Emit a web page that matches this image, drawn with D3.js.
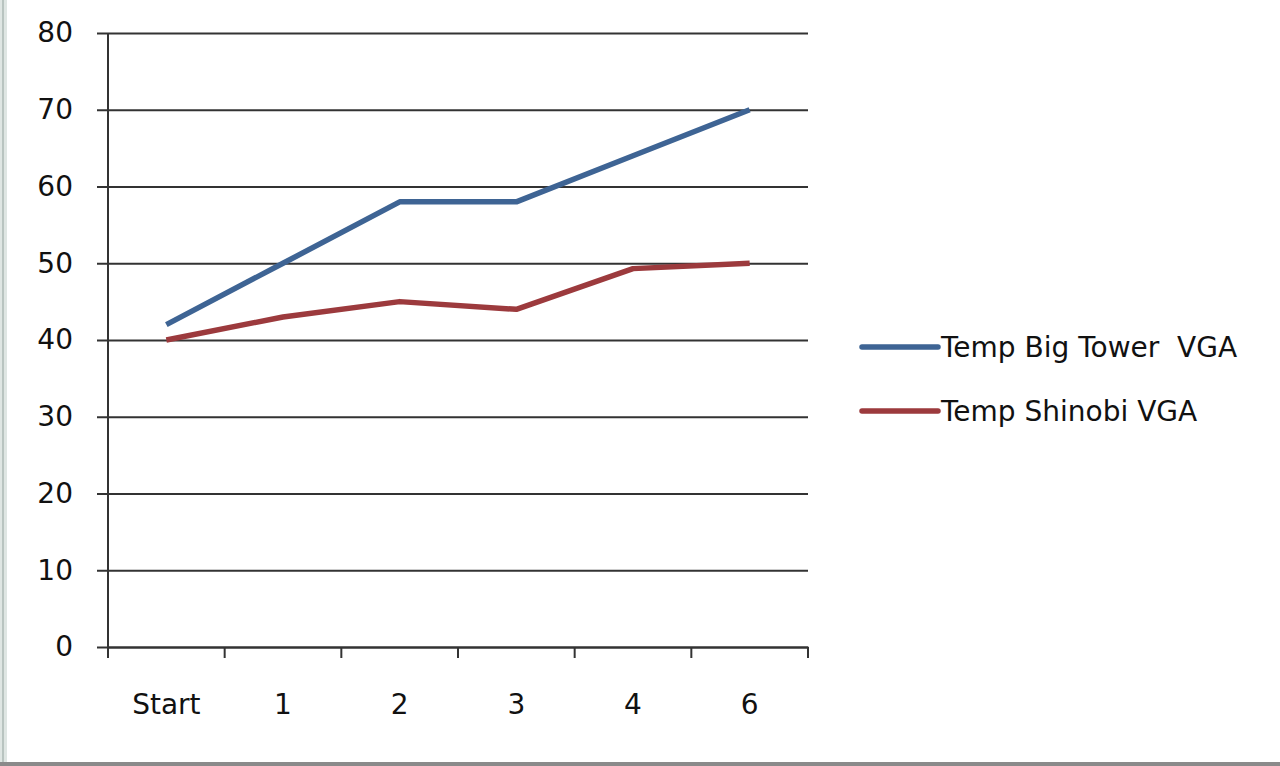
<!DOCTYPE html>
<html>
<head>
<meta charset="utf-8">
<script src="https://cdn.jsdelivr.net/npm/d3@7"></script>
<style>
  body { margin: 0; background: #fff; }
  svg { display: block; }
  text { font-family: "DejaVu Sans", Verdana, sans-serif; fill: #111; white-space: pre; }
</style>
</head>
<body>
<div id="chart"></div>
<script>
// data
const categories = ["Start", "1", "2", "3", "4", "6"];
const bigTower = [42, 50, 58, 58, 64, 70];
const shinobi = [40, 43, 45, 44, 49.3, 50];
const seriesNames = ["Temp Big Tower  VGA", "Temp Shinobi VGA"];
const yTicks = [0, 10, 20, 30, 40, 50, 60, 70, 80];

const w = 1280, h = 766;
const plotLeft = 108, plotRight = 808, plotTop = 33, plotBottom = 647;

const svg = d3.select("#chart").append("svg")
    .attr("width", w)
    .attr("height", h);

// window frame edges
svg.append("rect").attr("x", 0).attr("y", 0).attr("width", 7).attr("height", h).attr("fill", "#dfe6e3");
svg.append("rect").attr("x", 2).attr("y", 0).attr("width", 2).attr("height", h).attr("fill", "#b9c4c0");
svg.append("rect").attr("x", 0).attr("y", h - 4).attr("width", w).attr("height", 4).attr("fill", "#8a8a8a");

const x = d3.scaleBand().domain(categories).range([plotLeft, plotRight]).padding(0);
const y = d3.scaleLinear().domain([0, 80]).range([plotBottom, plotTop]);

//gridlines + y axis
const yAxis = d3.axisLeft(y)
    .tickValues(yTicks)
    .tickSize(-(plotRight - plotLeft))
    .tickSizeOuter(0)
    .tickPadding(35);

const gy = svg.append("g")
    .attr("transform", `translate(${plotLeft},0)`)
    .call(yAxis);
gy.select(".domain").remove();
gy.selectAll(".tick line")
    .attr("x1", -11)
    .attr("stroke", "#333")
    .attr("stroke-width", 2);
gy.selectAll(".tick text")
    .style("font-size", "28px")
    .attr("fill", "#111");

// vertical axis line
svg.append("line")
    .attr("x1", plotLeft).attr("x2", plotLeft)
    .attr("y1", plotTop).attr("y2", plotBottom)
    .attr("stroke", "#333").attr("stroke-width", 2);

// x axis labels
const xAxis = d3.axisBottom(x).tickSize(0).tickPadding(47);
const gx = svg.append("g")
    .attr("transform", `translate(0,${plotBottom})`)
    .call(xAxis);
gx.select(".domain")
    .attr("stroke", "#333")
    .attr("stroke-width", 2);
gx.selectAll(".tick text")
    .style("font-size", "28px")
    .attr("fill", "#111");

// tick marks on category boundaries
const bounds = categories.map(c => x(c)).concat([x(categories[categories.length - 1]) + x.bandwidth()]);
svg.append("g").selectAll("line")
    .data(bounds)
    .enter()
    .append("line")
    .attr("x1", d => d).attr("x2", d => d)
    .attr("y1", plotBottom).attr("y2", plotBottom + 11)
    .attr("stroke", "#333")
    .attr("stroke-width", 2);

const line = d3.line()
    .x((d, i) => x(categories[i]) + x.bandwidth() / 2)
    .y(d => y(d));

const colors = ["#3e6494", "#9c3a3d"];

[bigTower, shinobi].forEach((s, k) => {
    svg.append("path")
        .datum(s)
        .attr("fill", "none")
        .attr("stroke", colors[k])
        .attr("stroke-width", 5.5)
        .attr("stroke-linejoin", "round")
        .attr("d", line);
});

// legend
const legend = svg.append("g");
seriesNames.forEach((name, k) => {
    const ly = 347 + k * 64;
    legend.append("line")
        .attr("x1", 862).attr("x2", 938)
        .attr("y1", ly).attr("y2", ly)
        .attr("stroke", colors[k])
        .attr("stroke-width", 5.5)
        .attr("stroke-linecap", "round");
    legend.append("text")
        .attr("x", 941)
        .attr("y", ly)
        .attr("dy", "0.35em")
        .style("font-size", "28px")
        .text(name);
});
</script>
</body>
</html>
